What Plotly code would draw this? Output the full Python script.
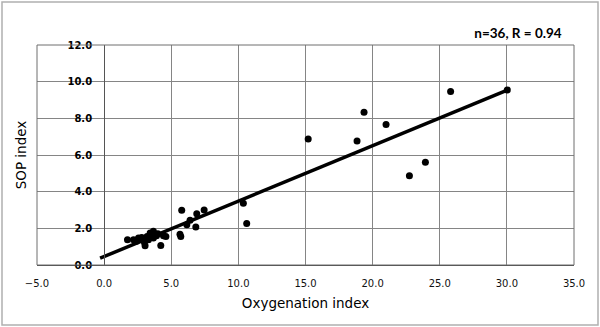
import numpy as np
import plotly.graph_objects as go

# Oxygenation index (x) and SOP index (y)
oxygenation_index = [
    15.2, 19.36, 21.0, 18.84, 23.93, 22.74, 25.81, 30.03,
    10.37, 10.62,
    7.45, 6.9, 6.4, 6.83, 6.16, 5.78, 5.71, 5.65,
    4.22, 4.42, 4.6, 3.67, 3.43, 3.05, 2.93, 2.56, 2.19, 1.74,
    3.3, 3.67, 3.0, 3.9, 2.8, 3.2, 4.0, 2.4,
]
sop_index = [
    6.87, 8.33, 7.66, 6.77, 5.60, 4.87, 9.46, 9.55,
    3.37, 2.27,
    3.0, 2.8, 2.44, 2.07, 2.2, 2.98, 1.56, 1.68,
    1.07, 1.6, 1.55, 1.84, 1.75, 1.05, 1.38, 1.47, 1.38, 1.38,
    1.38, 1.47, 1.24, 1.6, 1.5, 1.55, 1.7, 1.3,
]
trend_x_start = -0.3
title_text = "n=36, R = 0.94"
x_title = "Oxygenation index"
y_title = "SOP index"

x = np.array(oxygenation_index)
y = np.array(sop_index)
slope, intercept = np.polyfit(x, y, 1)
fit_x = np.array([trend_x_start, x.max()])
fit_y = slope * fit_x + intercept

W, H = 600, 327
L, R, T, B = 37, 26, 45, 62

fig = go.Figure()
fig.add_trace(go.Scatter(x=fit_x, y=fit_y, mode="lines",
                         line=dict(color="black", width=3.5), hoverinfo="skip"))
fig.add_trace(go.Scatter(x=x, y=y, mode="markers",
                         marker=dict(color="black", size=7)))

grid = "#858585"
fig.update_layout(
    width=W, height=H,
    margin=dict(l=L, r=R, t=T, b=B),
    paper_bgcolor="white", plot_bgcolor="white",
    showlegend=False,
    title=dict(text=title_text, x=518 / W, xanchor="center",
               y=1 - 33 / H, yanchor="middle", yref="container",
               font=dict(family="Lato", size=13.5, color="black", weight="bold")),
    xaxis=dict(range=[-5, 35], dtick=5, tick0=0, tickformat=".1f",
               showgrid=True, gridcolor=grid, gridwidth=1,
               zeroline=False, showline=True, linecolor="#444", linewidth=1,
               ticks="", ticklabelstandoff=9,
               tickfont=dict(family="DejaVu Sans", size=10, color="#111"),
               title=dict(text=x_title, standoff=10,
                          font=dict(family="DejaVu Sans", size=13.5, color="black"))),
    yaxis=dict(range=[0, 12], dtick=2, tick0=0, tickformat=".1f",
               anchor="free", position=0.125,
               showgrid=True, gridcolor=grid, gridwidth=1,
               zeroline=False, showline=True, linecolor="#555", linewidth=1,
               ticks="", ticklabelstandoff=10,
               tickfont=dict(family="DejaVu Sans", size=10, color="black", weight="bold"),
               title=dict(text=y_title, standoff=36,
                          font=dict(family="DejaVu Sans", size=13.5, color="black"))),
)

# plot-area border
fig.add_shape(type="rect", xref="paper", yref="paper", x0=0, y0=0, x1=1, y1=1,
              line=dict(color="#6e6e6e", width=1), layer="above")
# outer chart frame
pw, ph = W - L - R, H - T - B
fig.add_shape(type="rect", xref="paper", yref="paper",
              x0=(2 - L) / pw, x1=(W - 2 - L) / pw,
              y0=-(H - 2 - T - ph) / ph, y1=1 + (T - 2) / ph,
              line=dict(color="#b0b0b0", width=1.5))

fig.write_html("out.html")
